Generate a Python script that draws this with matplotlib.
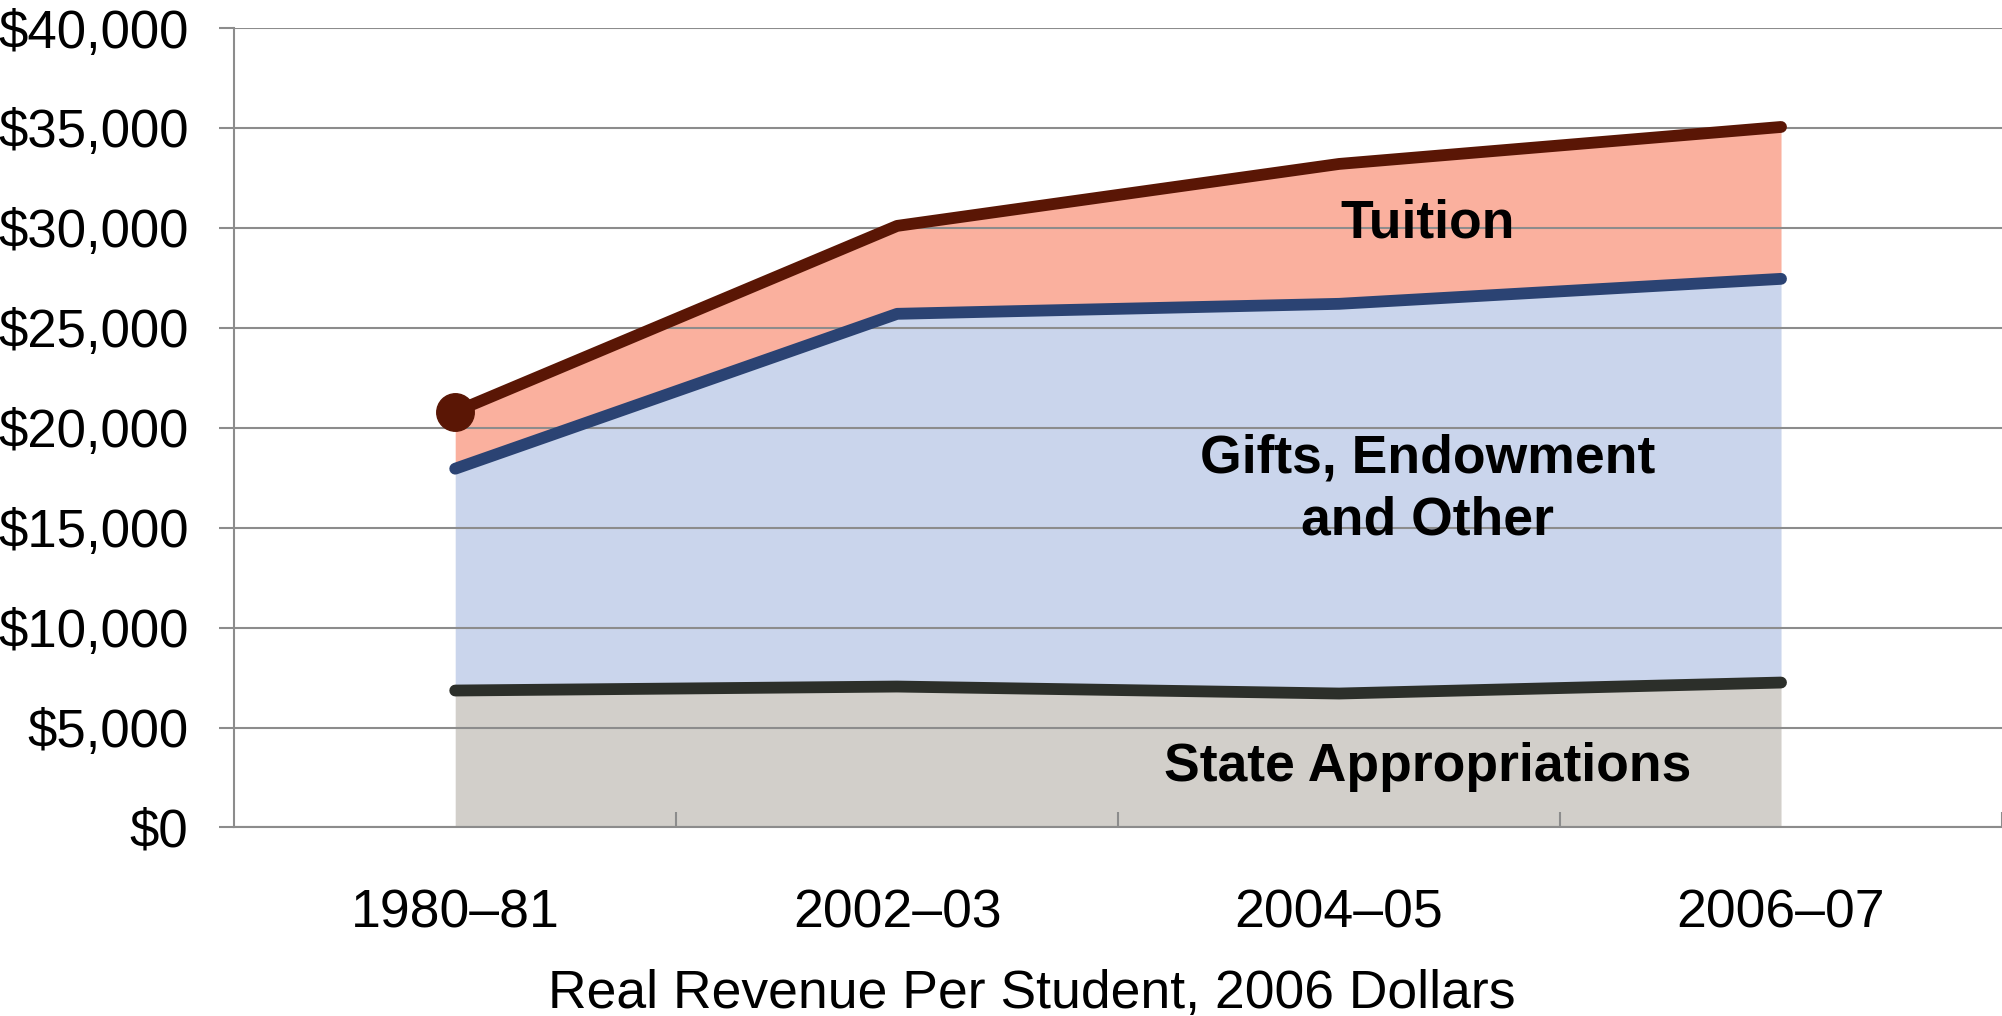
import numpy as np
import matplotlib
matplotlib.use("Agg")
import matplotlib.pyplot as plt

# Data (real revenue per student, 2006 dollars)
years = ["1980\u201381", "2002\u201303", "2004\u201305", "2006\u201307"]
state_approp = [6850, 7050, 6700, 7250]
gifts_other = [11100, 18650, 19500, 20200]
tuition = [2850, 4400, 7000, 7600]

yticks = [0, 5000, 10000, 15000, 20000, 25000, 30000, 35000, 40000]

x = np.arange(len(years))
lvl_state = np.array(state_approp)
lvl_gifts = lvl_state + np.array(gifts_other)
lvl_total = lvl_gifts + np.array(tuition)

plt.rcParams["font.family"] = ["Liberation Sans", "DejaVu Sans"]
grid_col = "#8C8C8C"

fig = plt.figure(figsize=(20.02, 10.16), dpi=100)
ax = fig.add_axes([0.117, 0.1856, 0.883, 0.7868])

# Stacked areas
ax.fill_between(x, 0, lvl_state, color="#D2CFCA", lw=0, zorder=1)
ax.fill_between(x, lvl_state, lvl_gifts, color="#CAD5EC", lw=0, zorder=1)
ax.fill_between(x, lvl_gifts, lvl_total, color="#FAB09E", lw=0, zorder=1)

# Gridlines above the areas
for v in yticks:
    ax.axhline(v, color=grid_col, lw=1.5, zorder=2)

# Boundary lines
ax.plot(x, lvl_state, color="#2C2F2A", lw=8.5, solid_capstyle="round", zorder=3)
ax.plot(x, lvl_gifts, color="#2B4373", lw=8.5, solid_capstyle="round", zorder=3)
ax.plot(x, lvl_total, color="#5A1605", lw=8.5, solid_capstyle="round", zorder=3)
ax.plot(x[0], lvl_total[0], "o", color="#5A1605", ms=27, zorder=4)

# Area labels
ax.text(2.2, 30200, "Tuition", ha="center", va="center",
        fontsize=38.5, fontweight="bold", zorder=5)
ax.text(2.2, 16900, "Gifts, Endowment\nand Other", ha="center", va="center",
        fontsize=38.5, fontweight="bold", linespacing=1.3, zorder=5)
ax.text(2.2, 3000, "State Appropriations", ha="center", va="center",
        fontsize=38.5, fontweight="bold", zorder=5)

ax.set_xlim(-0.5, 3.5)
ax.set_ylim(0, 40000)

ax.set_yticks(yticks)
ax.set_yticklabels(["${:,}".format(v) for v in yticks])
ax.tick_params(axis="y", direction="out", length=11, width=1.5,
               color=grid_col, labelsize=38, pad=22)

ax.set_xticks(x)
ax.set_xticklabels(years)
ax.set_xticks([0.5, 1.5, 2.5, 3.5], minor=True)
ax.tick_params(axis="x", which="major", length=0, labelsize=38.5, pad=44)
ax.tick_params(axis="x", which="minor", direction="in", length=11,
               width=1.5, color=grid_col)

for side in ["top", "right"]:
    ax.spines[side].set_visible(False)
for side in ["left", "bottom"]:
    ax.spines[side].set_color(grid_col)
    ax.spines[side].set_linewidth(1.5)
    ax.spines[side].set_zorder(2)

ax.set_xlabel("Real Revenue Per Student, 2006 Dollars", fontsize=38.5)
ax.xaxis.set_label_coords(0.451, -0.177)

fig.savefig("out.png", dpi=100)
